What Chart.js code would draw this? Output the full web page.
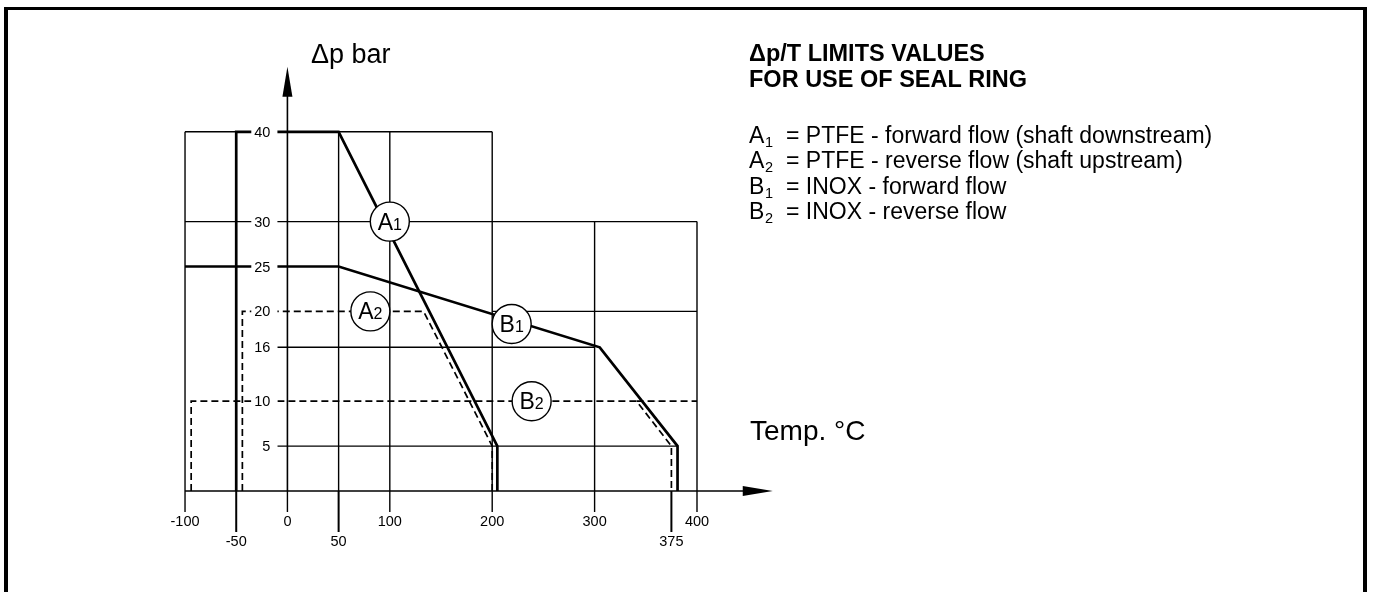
<!DOCTYPE html>
<html>
<head>
<meta charset="utf-8">
<title>Δp/T limits values</title>
<script src="https://cdn.jsdelivr.net/npm/chart.js@4.4.1/dist/chart.umd.min.js"></script>
<style>
  html, body { margin: 0; padding: 0; background: #fff; overflow: hidden; }
  #wrap { position: relative; width: 1373px; height: 592px; }
  #frame { position: absolute; left: 4px; top: 7px; width: 1355px; height: 620px;
           border: solid #000; border-width: 3px 4px 0 4px; pointer-events: none; }
</style>
</head>
<body>
<div id="wrap">
  <canvas id="myChart" width="1373" height="592"></canvas>
  <div id="frame"></div>
</div>
<script>
  // Nhãn trục
  const tempTicks = [-100, 0, 100, 200, 300, 400];   // hàng trên
  const tempTicksLow = [-50, 50, 375];               // hàng dưới
  const dpTicks = [40, 30, 25, 20, 16, 10, 5];

  // Các đường giới hạn (T °C, Δp bar)
  const a1Temp = [-50, -50, 50, 205, 205];
  const a1Dp   = [0, 40, 40, 5, 0];
  const a2Temp = [-44, -44, 133, 200, 200];
  const a2Dp   = [0, 20, 20, 5, 0];
  const b1Temp = [-100, 50, 305, 381, 381];
  const b1Dp   = [25, 25, 16, 5, 0];
  const b2Temp = [-94, -94, 341, 375, 375];
  const b2Dp   = [0, 10, 10, 5, 0];

  // Lưới: ngang [Δp, từ T, đến T], dọc [T, từ Δp, đến Δp]
  const gridH = [[40, -100, 200], [30, -100, 400], [20, 200, 400], [16, -10, 300], [5, -10, 381]];
  const gridHDashed = [[10, 341, 400]];
  const gridV = [[-100, 0, 40], [50, 0, 40], [100, 0, 40], [200, 0, 40], [300, 0, 30], [400, 0, 30]];

  // Nhãn vòng tròn trên các đường
  const tagNames = ['A', 'A', 'B', 'B'];
  const tagSubs  = ['1', '2', '1', '2'];
  const tagTemp  = [100, 81, 219, 238.5];
  const tagDp    = [30, 20, 18.6, 10];

  const legendNames = ['A', 'A', 'B', 'B'];
  const legendSubs  = ['1', '2', '1', '2'];
  const legendTexts = [
    '= PTFE - forward flow (shaft downstream)',
    '= PTFE - reverse flow (shaft upstream)',
    '= INOX - forward flow',
    '= INOX - reverse flow'
  ];

  const FONT = '"Liberation Sans", Arial, sans-serif';
  const toPts = (ts, ps) => ts.map((t, i) => ({ x: t, y: ps[i] }));

  function seg(ctx, x1, y1, x2, y2) {
    ctx.beginPath();
    ctx.moveTo(x1, y1);
    ctx.lineTo(x2, y2);
    ctx.stroke();
  }

  const drawing = {
    id: 'drawing',
    beforeDatasetsDraw(chart) {
      const { ctx, scales: { x, y } } = chart;
      ctx.save();
      ctx.strokeStyle = '#000';
      ctx.lineCap = 'butt';

      // lưới mảnh
      ctx.lineWidth = 1.4;
      gridH.forEach(([p, t0, t1]) => seg(ctx, x.getPixelForValue(t0), y.getPixelForValue(p), x.getPixelForValue(t1), y.getPixelForValue(p)));
      gridV.forEach(([t, p0, p1]) => seg(ctx, x.getPixelForValue(t), y.getPixelForValue(p0), x.getPixelForValue(t), y.getPixelForValue(p1)));
      ctx.setLineDash([7, 4]);
      ctx.lineWidth = 1.7;
      gridHDashed.forEach(([p, t0, t1]) => seg(ctx, x.getPixelForValue(t0), y.getPixelForValue(p), x.getPixelForValue(t1), y.getPixelForValue(p)));
      ctx.setLineDash([]);

      // trục
      const x0 = x.getPixelForValue(0), y0 = y.getPixelForValue(0);
      const xEnd = x.getPixelForValue(474), yEnd = y.getPixelForValue(47.25);
      ctx.lineWidth = 1.6;
      seg(ctx, x.getPixelForValue(-100), y0, xEnd - 20, y0);
      seg(ctx, x0, y0, x0, yEnd + 20);
      ctx.fillStyle = '#000';
      ctx.beginPath();
      ctx.moveTo(xEnd, y0); ctx.lineTo(xEnd - 30, y0 - 5); ctx.lineTo(xEnd - 30, y0 + 5); ctx.closePath(); ctx.fill();
      ctx.beginPath();
      ctx.moveTo(x0, yEnd); ctx.lineTo(x0 - 5, yEnd + 30); ctx.lineTo(x0 + 5, yEnd + 30); ctx.closePath(); ctx.fill();

      // vạch chia trục hoành
      ctx.lineWidth = 1.4;
      tempTicks.forEach(t => seg(ctx, x.getPixelForValue(t), y0, x.getPixelForValue(t), y0 + 21));
      ctx.lineWidth = 2;
      tempTicksLow.forEach(t => seg(ctx, x.getPixelForValue(t), y0, x.getPixelForValue(t), y0 + 41));
      ctx.restore();
    },
    afterDatasetsDraw(chart) {
      const { ctx, scales: { x, y } } = chart;
      const x0 = x.getPixelForValue(0), y0 = y.getPixelForValue(0);
      ctx.save();
      ctx.fillStyle = '#000';

      // nhãn trục tung, nền trắng cắt ngang đường
      ctx.font = '14.5px ' + FONT;
      ctx.textBaseline = 'middle';
      ctx.textAlign = 'right';
      dpTicks.forEach(p => {
        const yy = y.getPixelForValue(p);
        const w = ctx.measureText(String(p)).width;
        ctx.fillStyle = '#fff';
        ctx.fillRect(x0 - 17 - w - 3, yy - 8, w + 10, 16);
        ctx.fillStyle = '#000';
        ctx.fillText(String(p), x0 - 17, yy + 1);
      });

      // nhãn trục hoành
      ctx.textAlign = 'center';
      tempTicks.forEach(t => ctx.fillText(String(t), x.getPixelForValue(t), y0 + 31));
      tempTicksLow.forEach(t => ctx.fillText(String(t), x.getPixelForValue(t), y0 + 51));

      // vòng tròn A1, A2, B1, B2
      ctx.textAlign = 'left';
      ctx.textBaseline = 'alphabetic';
      tagNames.forEach((name, i) => {
        const cx = x.getPixelForValue(tagTemp[i]), cy = y.getPixelForValue(tagDp[i]);
        ctx.beginPath();
        ctx.arc(cx, cy, 19.5, 0, Math.PI * 2);
        ctx.fillStyle = '#fff';
        ctx.fill();
        ctx.lineWidth = 1.4;
        ctx.strokeStyle = '#000';
        ctx.stroke();
        ctx.fillStyle = '#000';
        ctx.font = '23px ' + FONT;
        const wL = ctx.measureText(name).width;
        ctx.font = '16px ' + FONT;
        const wS = ctx.measureText(tagSubs[i]).width;
        const sx = cx - (wL + wS) / 2;
        ctx.font = '23px ' + FONT;
        ctx.fillText(name, sx, cy + 8);
        ctx.font = '16px ' + FONT;
        ctx.fillText(tagSubs[i], sx + wL, cy + 8);
      });

      // tên trục
      ctx.font = '27px ' + FONT;
      ctx.fillText('Δp bar', 311, 63);
      ctx.font = '28px ' + FONT;
      ctx.fillText('Temp. °C', 750, 440);

      // tiêu đề và chú thích
      ctx.font = 'bold 23.5px ' + FONT;
      ctx.fillText('Δp/T LIMITS VALUES', 749, 61);
      ctx.fillText('FOR USE OF SEAL RING', 749, 87);
      const rows = [143, 168.3, 193.5, 218.7];
      legendNames.forEach((name, i) => {
        ctx.font = '23px ' + FONT;
        ctx.fillText(name, 749, rows[i]);
        ctx.font = '14.5px ' + FONT;
        ctx.fillText(legendSubs[i], 765, rows[i] + 4);
        ctx.font = '23px ' + FONT;
        ctx.fillText(legendTexts[i], 786, rows[i]);
      });
      ctx.restore();
    }
  };

  const lineStyle = (solid) => ({
    showLine: true,
    borderColor: '#000',
    borderWidth: solid ? 2.7 : 1.7,
    borderDash: solid ? [] : [7, 4],
    borderJoinStyle: 'miter',
    pointRadius: 0,
    tension: 0,
    fill: false
  });

  const config = {
    type: 'scatter',
    data: {
      datasets: [
        { label: 'A1', data: toPts(a1Temp, a1Dp), ...lineStyle(true) },
        { label: 'A2', data: toPts(a2Temp, a2Dp), ...lineStyle(false) },
        { label: 'B1', data: toPts(b1Temp, b1Dp), ...lineStyle(true) },
        { label: 'B2', data: toPts(b2Temp, b2Dp), ...lineStyle(false) }
      ]
    },
    options: {
      responsive: false,
      animation: false,
      layout: { padding: 0 },
      plugins: { legend: { display: false }, tooltip: { enabled: false } },
      scales: {
        x: { type: 'linear', min: -280.7, max: 1060.2, display: false },
        y: { type: 'linear', min: -11.25, max: 54.68, display: false }
      }
    },
    plugins: [drawing]
  };

  // Vẽ biểu đồ
  const myChart = new Chart(document.getElementById('myChart'), config);
</script>
</body>
</html>
